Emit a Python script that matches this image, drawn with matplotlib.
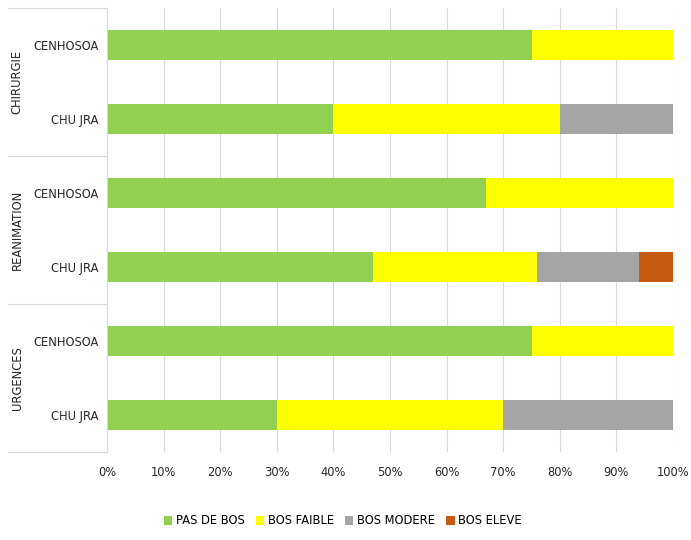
import matplotlib.pyplot as plt
import matplotlib.transforms as mtransforms
import numpy as np

groups = ['CHIRURGIE', 'REANIMATION', 'URGENCES']
sites = ['CENHOSOA', 'CHU JRA']
series = ['PAS DE BOS', 'BOS FAIBLE', 'BOS MODERE', 'BOS ELEVE']
colors = ['#92D050', '#FFFF00', '#A5A5A5', '#C55A11']

# rows top to bottom: CHIRURGIE/CENHOSOA, CHIRURGIE/CHU JRA, REANIMATION..., URGENCES...
pas_de_bos = [75, 40, 67, 47, 75, 30]
bos_faible = [25, 40, 33, 29, 25, 40]
bos_modere = [0, 20, 0, 18, 0, 30]
bos_eleve = [0, 0, 0, 6, 0, 0]

plt.rcParams['font.family'] = 'DejaVu Sans'
plt.rcParams['font.size'] = 8.3

fig = plt.figure(figsize=(6.91, 5.40), dpi=100)
ax = fig.add_axes([107/691, 1-452/540, 566/691, 444/540])

y = np.arange(len(pas_de_bos))
left = np.zeros(len(y))
for vals, name, c in zip([pas_de_bos, bos_faible, bos_modere, bos_eleve], series, colors):
    vals = np.array(vals, dtype=float)
    ax.barh(y, vals, left=left, height=0.4, color=c, label=name)
    left += vals

ax.set_xlim(0, 100)
ax.set_ylim(len(y) - 0.5, -0.5)
ax.set_xticks(np.arange(0, 101, 10))
ax.set_xticklabels([f'{v}%' for v in range(0, 101, 10)])
ax.set_yticks(y)
ax.set_yticklabels(sites * len(groups))
ax.tick_params(axis='both', length=0, colors='#262626')
ax.tick_params(axis='y', pad=6)
ax.tick_params(axis='x', pad=10)
ax.grid(axis='x', color='#D9D9D9', lw=0.8)
ax.set_axisbelow(True)
for s in ['top', 'right', 'bottom']:
    ax.spines[s].set_visible(False)
ax.spines['left'].set_color('#D9D9D9')

# group dividers and labels
trans = mtransforms.blended_transform_factory(ax.transAxes, ax.transData)
x0 = (8 - 107) / 566
for b in [-0.5, 1.5, 3.5, 5.5]:
    ax.plot([x0, 0], [b, b], color='#D9D9D9', lw=0.8, transform=trans, clip_on=False)
for i, g in enumerate(groups):
    ax.text((17 - 107) / 566, 2 * i + 0.5, g, rotation=90, ha='center', va='center',
            transform=trans, color='#262626')

fig.legend(loc='center', bbox_to_anchor=(343/691, 1-521/540), ncol=4, frameon=False,
           handlelength=0.7, handleheight=0.7, handletextpad=0.3, columnspacing=1.0)

fig.savefig('out.png', dpi=100)
